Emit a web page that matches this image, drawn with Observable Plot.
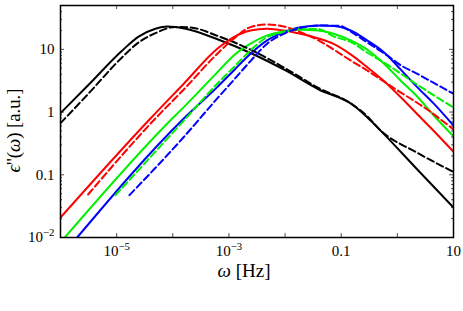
<!DOCTYPE html>
<html><head><meta charset="utf-8">
<script src="https://cdn.jsdelivr.net/npm/d3@7"></script>
<script src="https://cdn.jsdelivr.net/npm/@observablehq/plot@0.6"></script>
<style>
html,body{margin:0;padding:0;background:#fff;}
#chart svg{display:block;}
</style>
</head><body><div id="chart"></div>
<script>
// [omega (Hz), epsilon'' (a.u.)]
const blackSolid = [[1e-6,0.96],[3.2e-6,2.75],[1.26e-5,9.6],[2.5e-5,16.1],[4.9e-5,21.3],[8e-5,23.2],[1.7e-4,21.3],[6.6e-4,14.2],[2.6e-3,8.5],[0.0102,4.6],[0.04,2.29],[0.155,1.33],[0.306,0.79],[0.46,0.55],[2.38,0.116],[10,0.030]];
const blackDashed = [[1e-6,0.665],[3.2e-6,2.0],[1.26e-5,7.5],[2.5e-5,13.0],[4.9e-5,18.1],[1.12e-4,22.8],[2.07e-4,22.3],[6.6e-4,16.1],[2.6e-3,9.6],[0.0102,4.95],[0.04,2.4],[0.155,1.34],[0.306,0.82],[0.46,0.55],[2.38,0.219],[10,0.111]];
const redSolid = [[1e-6,0.0208],[4e-5,0.79],[1.57e-4,2.83],[6.2e-4,10.2],[1.22e-3,15.7],[2.42e-3,20.0],[4.8e-3,21.3],[9.5e-3,20.0],[0.0188,17.7],[0.0394,14.9],[0.073,12.2],[0.147,8.3],[0.29,5.2],[0.574,3.13],[1.14,1.74],[2.69,0.79],[4.46,0.50],[10,0.233]];
const redDashed = [[3.1e-6,0.0485],[4.9e-5,0.79],[1.57e-4,2.29],[6.2e-4,8.5],[1.22e-3,14.8],[2.42e-3,22.6],[4.8e-3,24.9],[9.5e-3,23.2],[0.0188,18.8],[0.0394,13.9],[0.073,9.95],[0.147,6.65],[0.29,4.6],[0.574,3.08],[1.14,2.06],[2.69,1.27],[10,0.53]];
const greenSolid = [[1.19e-6,0.01],[9.8e-5,0.79],[1.57e-4,1.2],[6.2e-4,4.3],[1.22e-3,8.0],[2.42e-3,12.3],[4.8e-3,16.7],[9.5e-3,19.5],[0.0188,20.6],[0.039,20.0],[0.073,17.7],[0.147,13.9],[0.29,9.95],[0.574,5.96],[1.14,3.19],[2.26,1.77],[4.46,0.88],[10,0.41]];
const greenDashed = [[9.5e-6,0.0473],[1.57e-4,0.73],[6.2e-4,2.83],[1.22e-3,5.2],[2.42e-3,9.6],[4.8e-3,15.7],[9.5e-3,18.8],[0.0188,21.3],[0.039,21.1],[0.073,16.1],[0.152,12.9],[0.29,8.9],[0.66,5.7],[2.38,2.65],[10,1.18]];
const blueSolid = [[1.98e-6,0.01],[1.57e-4,0.79],[6.2e-4,2.5],[1.22e-3,4.6],[2.42e-3,8.5],[4.8e-3,13.9],[9.5e-3,18.8],[0.0188,22.6],[0.043,24.0],[0.074,23.6],[0.147,20.0],[0.29,13.9],[0.574,9.0],[1.14,4.8],[2.26,2.5],[4.46,1.36],[10,0.61]];
const blueDashed = [[1.69e-5,0.0473],[1.57e-4,0.40],[6.2e-4,1.65],[1.22e-3,3.25],[2.42e-3,6.5],[4.8e-3,12.3],[9.5e-3,17.7],[0.0188,21.9],[0.043,24.0],[0.097,23.6],[0.147,19.3],[0.29,12.9],[0.66,8.0],[1.14,5.6],[2.38,3.98],[4.46,2.91],[10,1.96]];

const xTickValues = [1e-6,1e-5,1e-4,1e-3,1e-2,0.1,1,10];
const xTickLabelValues = [1e-5,1e-3,0.1,10];
const xTickLabels = ["10^−5","10^−3","0.1","10"];
const yMajorTicks = [0.01,0.1,1,10];
const yTickLabels = ["10^−2","0.1","1","10"];
const yMinorTicks = [0.02,0.03,0.04,0.05,0.06,0.07,0.08,0.09,0.2,0.3,0.4,0.5,0.6,0.7,0.8,0.9,2,3,4,5,6,7,8,9,20,30,40];

const W = 463, H = 311, ML = 60, MR = 10, MT = 5, MB = 74;
const innerW = W - ML - MR, innerH = H - MT - MB;
const serif = "'Liberation Serif','Times New Roman',serif";

const series = [
  {d: blackSolid, c: "#000000", dash: null},
  {d: redSolid, c: "#ff0000", dash: null},
  {d: greenSolid, c: "#00f000", dash: null},
  {d: blueSolid, c: "#0000ff", dash: null},
  {d: blackDashed, c: "#000000", dash: "7,3.5"},
  {d: redDashed, c: "#ff0000", dash: "7,3.5"},
  {d: greenDashed, c: "#00f000", dash: "7,3.5"},
  {d: blueDashed, c: "#0000ff", dash: "7,3.5"}
];

const lineMarks = series.map(s => Plot.line(s.d, {
  x: d => d[0], y: d => d[1], stroke: s.c, strokeWidth: 2,
  strokeDasharray: s.dash ?? undefined, curve: "monotone-x", clip: true
}));

const tickStyle = {stroke: "#222", strokeWidth: 0.8};

const svg = Plot.plot({
  width: W, height: H,
  marginLeft: ML, marginRight: MR, marginTop: MT, marginBottom: MB,
  x: {type: "log", domain: [1e-6, 10]},
  y: {type: "log", domain: [0.01, 50]},
  style: {fontFamily: serif, fontSize: "15px", color: "black", background: "white"},
  marks: [
    ...lineMarks,
    Plot.ruleX(xTickValues, {x: d => d, insetTop: innerH - 4, ...tickStyle}),
    Plot.ruleX(xTickValues, {x: d => d, insetBottom: innerH - 4, ...tickStyle}),
    Plot.ruleY(yMajorTicks, {y: d => d, insetRight: innerW - 4, ...tickStyle}),
    Plot.ruleY(yMajorTicks, {y: d => d, insetLeft: innerW - 4, ...tickStyle}),
    Plot.ruleY(yMinorTicks, {y: d => d, insetRight: innerW - 2, ...tickStyle}),
    Plot.ruleY(yMinorTicks, {y: d => d, insetLeft: innerW - 2, ...tickStyle}),
    Plot.axisX(xTickLabelValues, {tickSize: 0, tickPadding: 8, tickFormat: d => xTickLabels[xTickLabelValues.indexOf(d)], fontSize: 15}),
    Plot.axisY(yMajorTicks, {tickSize: 0, tickPadding: 6, tickFormat: d => yTickLabels[yMajorTicks.indexOf(d)], fontSize: 15}),
    Plot.frame({stroke: "black", strokeWidth: 1.5}),
    Plot.text(["XLABEL"], {frameAnchor: "bottom", dx: -13, dy: 39, lineAnchor: "bottom", textAnchor: "middle", fontSize: 19, text: d => d}),
    Plot.text(["YLABEL"], {frameAnchor: "left", dx: -41, dy: 9, lineAnchor: "bottom", textAnchor: "middle", rotate: -90, fontSize: 18, text: d => d})
  ]
});

svg.querySelectorAll("text").forEach(el => {
  const t = el.textContent;
  if (t.includes("^")) {
    const [b, e] = t.split("^");
    el.textContent = b;
    const ts = document.createElementNS("http://www.w3.org/2000/svg", "tspan");
    ts.setAttribute("font-size", "0.72em");
    ts.setAttribute("dy", "-0.55em");
    ts.textContent = e;
    el.appendChild(ts);
  } else if (t === "XLABEL" || t === "YLABEL") {
    el.textContent = "";
    const parts = t === "XLABEL"
      ? [["ω", true], [" [Hz]", false]]
      : [["ϵ", true], ["''(", false], ["ω", true], [") [a.u.]", false]];
    for (const [s, it] of parts) {
      const ts = document.createElementNS("http://www.w3.org/2000/svg", "tspan");
      if (it) ts.setAttribute("font-style", "italic");
      ts.textContent = s;
      el.appendChild(ts);
    }
    if (t === "YLABEL") {
      el.setAttribute("textLength", "84");
      el.setAttribute("lengthAdjust", "spacingAndGlyphs");
    }
  }
});

document.getElementById("chart").appendChild(svg);
</script>
</body></html>
